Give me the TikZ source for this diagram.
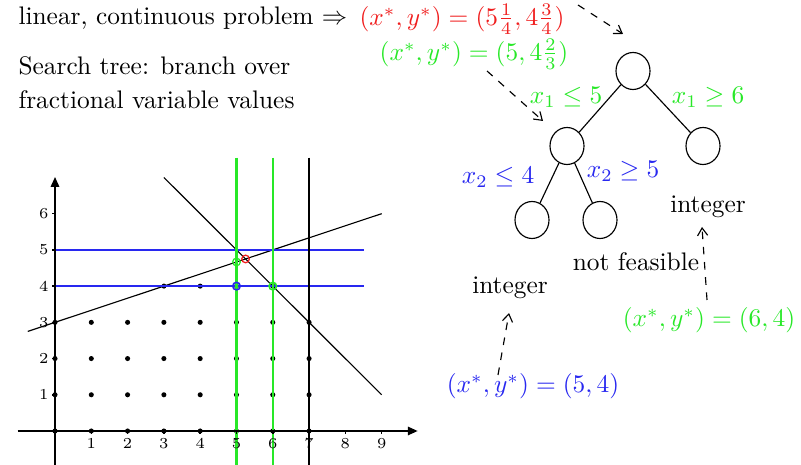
\documentclass[tikz,border=0pt]{standalone}
\usetikzlibrary{arrows.meta,shapes.geometric}
\definecolor{mygreen}{RGB}{40,232,40}
\definecolor{myblue}{RGB}{40,40,240}
\definecolor{myred}{RGB}{240,30,30}
\newlength{\pxu}\setlength{\pxu}{0.394pt}
\tikzset{
  txt/.style={inner sep=0pt, anchor=west},
  lbl/.style={inner sep=0pt},
  tnode/.style={draw, ellipse, minimum width=34\pxu, minimum height=37\pxu, inner sep=0pt, line width=0.45pt},
  tedge/.style={line width=0.45pt},
  pointer/.style={dashed, line width=0.45pt, -{Straight Barb[length=3pt,width=4pt]}},
  ticklab/.style={font=\fontsize{6}{6}\selectfont, inner sep=1pt},
}
\begin{document}
\begin{tikzpicture}[x=0.394pt, y=-0.394pt]
\useasboundingbox (0,0) rectangle (801,465);
% texts
\node[txt] (t1) at (18,18) {linear, continuous problem $\Rightarrow$};
\node[txt, text=myred] (red) at (359,19) {$(x^*,y^*)=(5\frac{1}{4},4\frac{3}{4})$};
\node[lbl, text=mygreen] (grn) at (474,54) {$(x^*,y^*)=(5,4\frac{2}{3})$};
\node[txt] (t2) at (18,66) {Search tree: branch over};
\node[txt] (t3) at (18,100) {fractional variable values};
% tree
\node[tnode] (r) at (633,71) {};
\node[tnode] (a) at (567,146) {};
\node[tnode] (b) at (703,146) {};
\node[tnode] (c) at (532,220) {};
\node[tnode] (d) at (600,220) {};
\draw[tedge] (r) -- (a);
\draw[tedge] (r) -- (b);
\draw[tedge] (a) -- (c);
\draw[tedge] (a) -- (d);
\node[lbl, text=mygreen] (l1) at (566,97) {$x_1\leq 5$};
\node[lbl, text=mygreen] (l2) at (708,97) {$x_1\geq 6$};
\node[lbl, text=myblue] (l3) at (498,177) {$x_2\leq 4$};
\node[lbl, text=myblue] (l4) at (623,171) {$x_2\geq 5$};
\node[lbl] (int1) at (708,207) {integer};
\node[lbl] (nf) at (636,262) {not feasible};
\node[lbl] (int2) at (510,288) {integer};
\node[lbl, text=myblue] (s1) at (533,386) {$(x^*,y^*)=(5,4)$};
\node[lbl, text=mygreen] (s2) at (709,320) {$(x^*,y^*)=(6,4)$};
\coordinate (p1a) at (578,5);   \coordinate (p1b) at (623,34);
\coordinate (p2a) at (487,71);  \coordinate (p2b) at (543,121);
\coordinate (p3a) at (498,375); \coordinate (p3b) at (509,313);
\coordinate (p4a) at (707,300); \coordinate (p4b) at (702,227);
\draw[pointer] (p1a) -- (p1b);
\draw[pointer] (p2a) -- (p2b);
\draw[pointer] (p3a) -- (p3b);
\draw[pointer] (p4a) -- (p4b);
% graph
\begin{scope}[shift={(55,431)}, x=14.3pt, y=14.27pt]
  \foreach \i in {0,...,7} \foreach \j in {0,...,3} \fill (\i,\j) circle (1pt);
  \foreach \i in {3,4,5,6} \fill (\i,4) circle (1pt);
  \draw[line width=0.45pt] (-0.75,2.75) -- (9,6);
  \draw[line width=0.45pt] (3,7) -- (9,1);
  \draw[myblue, line width=1pt] (0,5) -- (8.5,5);
  \draw[myblue, line width=1pt] (0,4) -- (8.5,4);
  \draw[mygreen, line width=1pt] (5,7.55) -- (5,-0.95);
  \draw[mygreen, line width=1pt] (6,7.55) -- (6,-0.95);
  \draw[black, line width=1pt] (7,7.55) -- (7,-0.95);
  \draw[line width=1pt, -{Triangle[length=4pt,width=3.2pt]}] (-1.03,0) -- (10,0);
  \draw[line width=1pt, -{Triangle[length=4pt,width=3.2pt]}] (0,-0.95) -- (0,7.02);
  \foreach \i in {1,...,9} {
    \draw[line width=0.6pt] (\i,0) -- (\i,-0.08);
    \node[ticklab, anchor=north] at (\i,-0.12) {\i};
  }
  \foreach \j in {1,...,6} {
    \draw[line width=0.6pt] (0,\j) -- (-0.08,\j);
    \node[ticklab, anchor=east] at (-0.1,\j) {\j};
  }
  \draw[myred, line width=0.5pt] (5.25,4.75) circle (1.5pt);
  \draw[mygreen, line width=0.5pt] (5,4.6667) circle (1.5pt);
  \draw[myblue, line width=0.6pt] (5,4) circle (1.5pt);
  \draw[mygreen, line width=0.6pt] (6,4) circle (1.5pt);
\end{scope}
\end{tikzpicture}
\end{document}
